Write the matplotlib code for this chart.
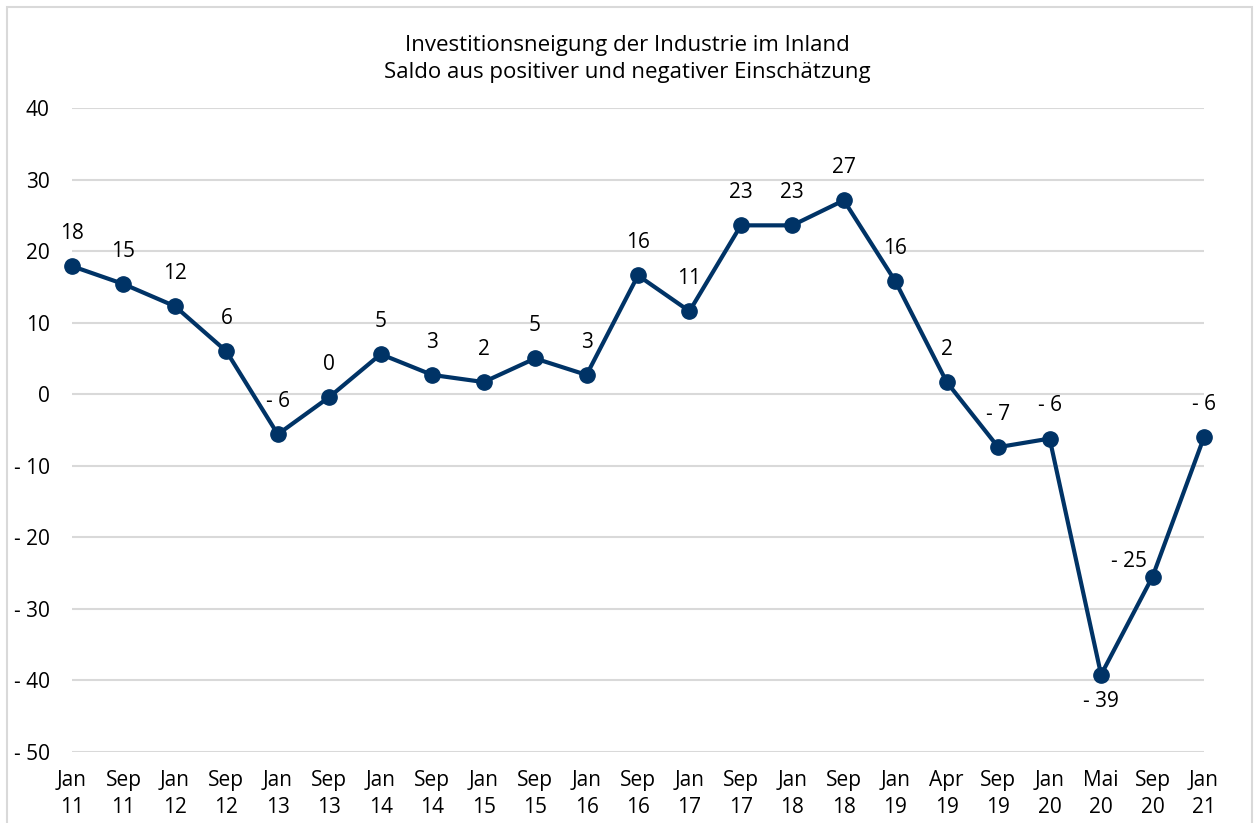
import matplotlib.pyplot as plt

months = ['Jan', 'Sep', 'Jan', 'Sep', 'Jan', 'Sep', 'Jan', 'Sep', 'Jan', 'Sep', 'Jan', 'Sep',
          'Jan', 'Sep', 'Jan', 'Sep', 'Jan', 'Apr', 'Sep', 'Jan', 'Mai', 'Sep', 'Jan']
years = ['11', '11', '12', '12', '13', '13', '14', '14', '15', '15', '16', '16',
         '17', '17', '18', '18', '19', '19', '19', '20', '20', '20', '21']
values = [17.9, 15.4, 12.3, 6.0, -5.6, -0.4, 5.6, 2.7, 1.7, 5.0, 2.7, 16.6,
          11.6, 23.6, 23.6, 27.1, 15.8, 1.7, -7.4, -6.2, -39.2, -25.5, -6.0]
labels = [18, 15, 12, 6, -6, 0, 5, 3, 2, 5, 3, 16, 11, 23, 23, 27, 16, 2, -7, -6, -39, -25, -6]

def fmt(v):
    v = int(round(v))
    return '- %d' % -v if v < 0 else '%d' % v

plt.rcParams['font.family'] = ['Open Sans', 'DejaVu Sans']
navy = '#003366'
fs = 15

fig = plt.figure(figsize=(12.55, 8.23), dpi=100)
ax = fig.add_axes([72 / 1255, 1 - 752 / 823, (1204 - 72) / 1255, (752 - 108) / 823])

# light grey frame around the whole chart
fig.patches.append(plt.Rectangle((7 / 1255, -0.05), 1245 / 1255, 1.05 - 7 / 823,
                                 transform=fig.transFigure, fill=False,
                                 edgecolor='#d9d9d9', linewidth=1.5))

x = list(range(len(values)))
ax.plot(x, values, color=navy, linewidth=3, marker='o', markersize=11, zorder=3, clip_on=False)

for i, (v, lab) in enumerate(zip(values, labels)):
    if lab == -39:
        ax.annotate(fmt(lab), (i, v), xytext=(0, -12), textcoords='offset points',
                    ha='center', va='top', fontsize=fs)
    elif lab == -25:
        ax.annotate(fmt(lab), (i, v), xytext=(-17, 11), textcoords='offset points',
                    ha='center', va='center', fontsize=fs)
    else:
        ax.annotate(fmt(lab), (i, v), xytext=(0, 16), textcoords='offset points',
                    ha='center', va='bottom', fontsize=fs)

ax.set_xlim(0, len(values) - 1)
ax.set_ylim(-50, 40)
ax.set_yticks(range(-50, 41, 10))
ax.set_yticklabels([fmt(t) for t in range(-50, 41, 10)], fontsize=fs)
ax.set_xticks(x)
ax.set_xticklabels([m + '\n' + y for m, y in zip(months, years)], fontsize=fs, linespacing=1.35)
ax.tick_params(length=0)
ax.tick_params(axis='x', pad=13)
ax.tick_params(axis='y', pad=16)
ax.grid(axis='y', color='#d9d9d9', linewidth=1.5)
ax.set_axisbelow(True)
for s in ax.spines.values():
    s.set_visible(False)

fig.text(0.5, 1 - 59 / 823, 'Investitionsneigung der Industrie im Inland\nSaldo aus positiver und negativer Einschätzung',
         ha='center', va='center', fontsize=16, linespacing=1.4)

fig.savefig('out.png', dpi=100)
